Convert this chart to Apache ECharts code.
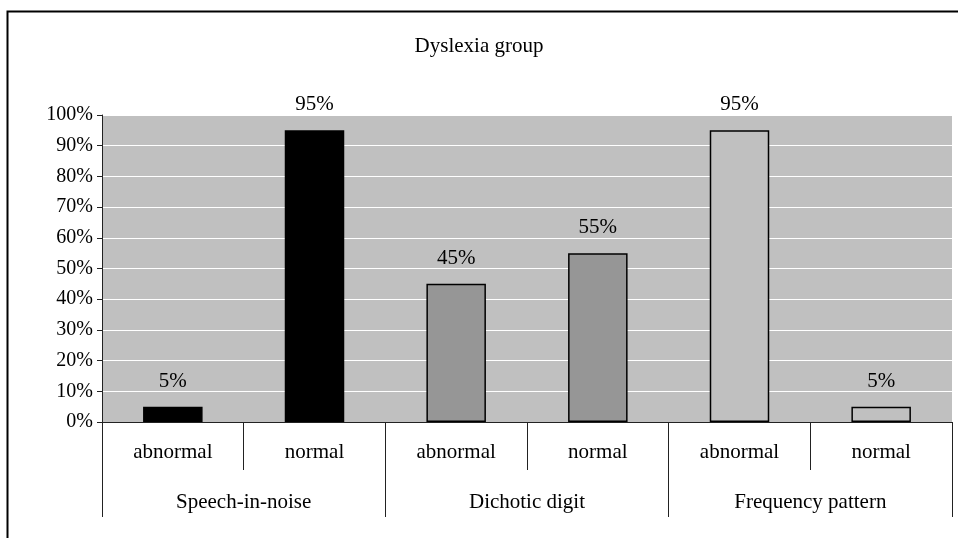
<!DOCTYPE html>
<html>
<head>
<meta charset="utf-8">
<script src="https://cdn.jsdelivr.net/npm/echarts@6/dist/echarts.min.js"></script>
<style>html,body{margin:0;padding:0;background:#fff}#c{width:958px;height:538px}</style>
</head>
<body>
<div id="c"></div>
<script>
const categories = ['abnormal', 'normal', 'abnormal', 'normal', 'abnormal', 'normal'];
const groups = ['Speech-in-noise', 'Dichotic digit', 'Frequency pattern'];
const values = [5, 95, 45, 55, 95, 5];
const yTicks = [0, 10, 20, 30, 40, 50, 60, 70, 80, 90, 100];
const barColors = ['#000000', '#000000', '#969696', '#969696', '#C0C0C0', '#C0C0C0'];

const FONT = '"Liberation Serif", "Times New Roman", serif';
const chart = echarts.init(document.getElementById('c'), null, {renderer: 'canvas'});
chart.setOption({
  animation: false,
  backgroundColor: '#ffffff',
  title: {
    text: 'Dyslexia group', left: 'center', top: 31,
    textStyle: {fontFamily: FONT, fontSize: 21, fontWeight: 'normal', color: '#000'}
  },
  graphic: [{
    type: 'rect', left: 5, top: 9, silent: true,
    shape: {width: 960, height: 540},
    style: {fill: 'none', stroke: '#000', lineWidth: 2}
  }],
  grid: {
    left: 102, right: 6, top: 115, bottom: 116,
    show: true, backgroundColor: '#C0C0C0', borderWidth: 0
  },
  xAxis: [{
    type: 'category', data: categories, position: 'bottom',
    axisLine: {show: true, lineStyle: {color: '#222', width: 1}},
    axisTick: {show: true, length: 48, alignWithLabel: false, lineStyle: {color: '#222'}},
    axisLabel: {fontFamily: FONT, fontSize: 21, color: '#000', margin: 20, interval: 0}
  }, {
    type: 'category', data: groups, position: 'bottom', gridIndex: 0,
    axisLine: {show: false},
    axisTick: {show: true, length: 95, alignWithLabel: false, lineStyle: {color: '#222'}},
    axisLabel: {fontFamily: FONT, fontSize: 21, color: '#000', margin: 70, interval: 0}
  }],
  yAxis: {
    type: 'value', min: yTicks[0], max: yTicks[yTicks.length - 1], interval: 10,
    axisLine: {show: true, lineStyle: {color: '#222'}},
    axisTick: {show: true, length: 5, lineStyle: {color: '#222'}},
    axisLabel: {fontFamily: FONT, fontSize: 20, color: '#000', margin: 9, formatter: '{value}%'},
    splitLine: {show: true, lineStyle: {color: '#ffffff', width: 1}}
  },
  series: [{
    type: 'bar', xAxisIndex: 0, barWidth: '42%',
    data: values.map((v, i) => ({
      value: v,
      itemStyle: {color: barColors[i], borderColor: '#000', borderWidth: 1.5}
    })),
    label: {
      show: true, position: 'top', distance: 15, formatter: '{c}%',
      fontFamily: FONT, fontSize: 21, color: '#000'
    }
  }]
});
</script>
</body>
</html>
